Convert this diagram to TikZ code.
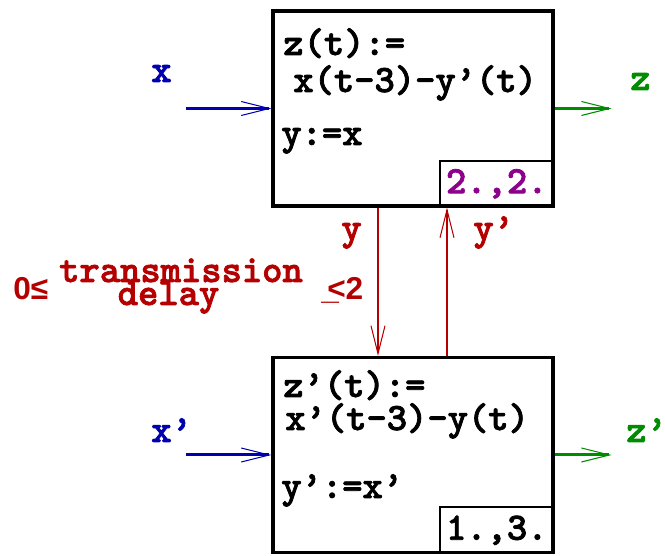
\documentclass[tikz,border=0pt]{standalone}
\usepackage{fontspec}
\usepackage{tikz}
\usepackage{xcolor}
\usetikzlibrary{arrows.meta, positioning, calc}
\newfontfamily\codefont{lmmonolt10-bold}[Extension=.otf, FakeBold=2]
\newfontfamily\relfont{Liberation Sans Bold}
\definecolor{inblue}{RGB}{0, 0, 175}
\definecolor{outgreen}{RGB}{0, 140, 0}
\definecolor{linkred}{RGB}{180, 0, 0}
\definecolor{tagpurple}{RGB}{140, 0, 140}
\tikzset{
    code/.style={font=\codefont\fontsize{22}{26}\selectfont, inner sep=0pt},
    rel/.style={font=\relfont\fontsize{18}{21}\selectfont, inner sep=0pt, text=linkred},
    block/.style={rectangle, draw=black, line width=1.8pt, minimum width=5.6cm, minimum height=3.9cm},
    tag/.style={rectangle, draw=black, line width=0.9pt, code, minimum width=2.28cm, minimum height=0.92cm, anchor=south east},
    barb/.style={-{Straight Barb[length=0.56cm, width=0.28cm, line width=0.6pt]}},
    inarr/.style={barb, line width=1.7pt, inblue},
    outarr/.style={barb, line width=1.7pt, outgreen},
    linkarr/.style={barb, line width=0.7pt, linkred}
}
\begin{document}
\begin{tikzpicture}
        \useasboundingbox (0,0) rectangle (13.3,11.12);
        % components
        \node[block] (top) at (8.26,8.95) {};
        \node[block] (bot) at (8.26,2.02) {};
        \node[tag, text=tagpurple] (toptag) at (top.south east) {2.,2.};
        \node[tag] (bottag) at (bot.south east) {1.,3.};

        \node[code, anchor=base west] (zdef) at (5.66,10.02) {z(t):=};
        \node[code, anchor=base west] (zrhs) at (5.86,9.28) {x(t-3)-y’(t)};
        \node[code, anchor=base west] (ycopy) at (5.62,8.22) {y:=x};
        \node[code, anchor=base west] (zpdef) at (5.66,3.18) {z’(t):=};
        \node[code, anchor=base west] (zprhs) at (5.70,2.52) {x’(t-3)-y(t)};
        \node[code, anchor=base west] (ypcopy) at (5.62,1.16) {y’:=x’};

        % signals
        \node[code, anchor=base west, text=inblue] (xin) at (3.02,9.48) {x};
        \node[code, anchor=base west, text=inblue] (xpin) at (3.02,2.28) {x’};
        \node[code, anchor=base west, text=outgreen] (zout) at (12.6,9.32) {z};
        \node[code, anchor=base west, text=outgreen] (zpout) at (12.52,2.28) {z’};
        \node[code, anchor=base west, text=linkred] (ylbl) at (6.82,6.32) {y};
        \node[code, anchor=base west, text=linkred] (yplbl) at (9.46,6.32) {y’};

        % delay bound
        \node[rel, anchor=base west] (lower) at (0.26,5.12) {0≤};
        \node[code, anchor=base, text=linkred] (trans) at (3.62,5.48) {transmission};
        \node[code, anchor=base, text=linkred] (delay) at (3.37,5.02) {delay};
        \node[rel, anchor=base west] (upper) at (6.42,5.12) {\_\kern-0.37em<2};

        \draw[inarr] ([xshift=-1.7cm]top.west)--(top.west);
        \draw[inarr] ([xshift=-1.7cm]bot.west)--(bot.west);
        \draw[outarr] (top.east)--([xshift=1.14cm]top.east);
        \draw[outarr] (bot.east)--([xshift=1.14cm]bot.east);
        \draw[linkarr] ([xshift=-0.7cm]top.south)--([xshift=-0.7cm]bot.north);
        \draw[linkarr] ([xshift=0.68cm]bot.north)--([xshift=0.68cm]top.south);
    \end{tikzpicture}
\end{document}
